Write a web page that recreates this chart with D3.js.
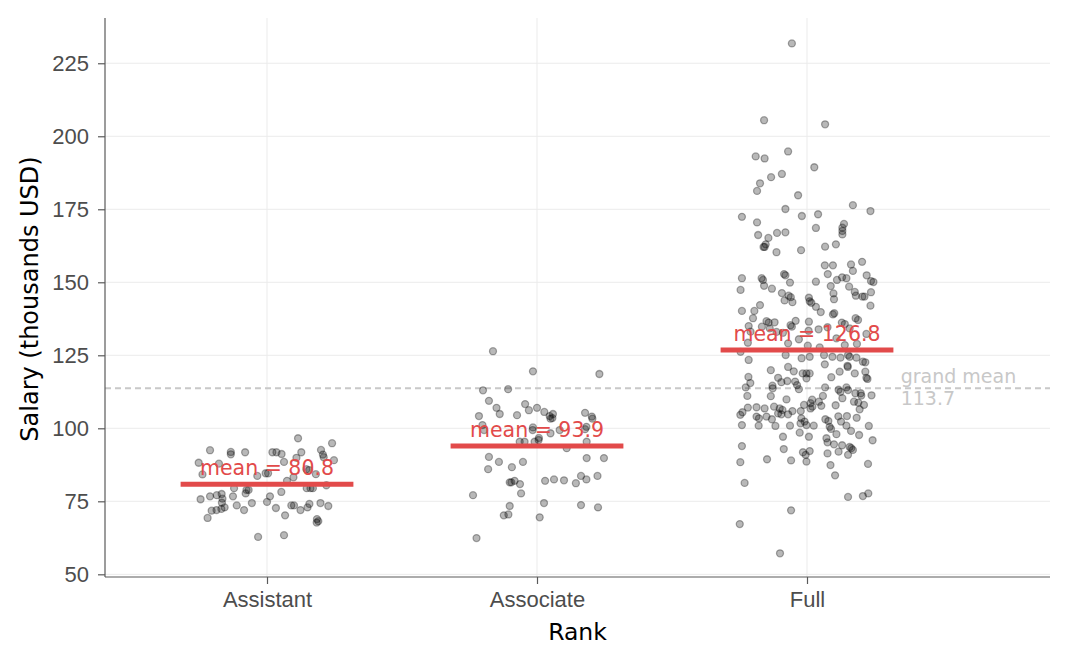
<!DOCTYPE html>
<html lang="en">
<head>
<meta charset="UTF-8">
<title>Salary by rank</title>
<script src="https://d3js.org/d3.v7.min.js"></script>
<style>
    body{ margin:0; background:#fff; }
    svg{ font-family:"DejaVu Sans", sans-serif; }
    .grid line{ stroke:#ebebeb; stroke-width:1; }
    .axis path, .axis line{ stroke:#5a5a5a; stroke-width:1.2; }
    .axis text{ fill:#4d4d4d; font-size:22px; }
</style>
</head>
<body>
<script>
// categories and summary values
const ranks = ["Assistant", "Associate", "Full"];
const rankMeans = [80.8, 93.9, 126.8];
const grandMean = 113.7;
const yTicks = [50, 75, 100, 125, 150, 175, 200, 225];

// [jitter (category units), salary (thousands USD)]
const assistant = [
    [0.115,96.6],[0.241,94.9],[-0.211,92.5],[-0.134,91.9],[-0.134,91.1],[-0.081,91.8],[0.020,91.8],[0.035,91.8],[0.054,91.2],[0.127,91.8],
    [0.200,92.6],[0.207,91.0],[0.210,90.1],[0.109,89.9],[0.248,89.1],[-0.253,88.2],[-0.178,87.9],[0.063,88.5],[0.146,86.0],[0.156,85.7],
    [-0.239,84.2],[-0.036,83.7],[-0.005,84.6],[0.004,84.6],[0.098,83.2],[0.181,84.3],[0.074,82.0],[0.220,80.5],[-0.122,79.5],[-0.076,78.9],
    [-0.068,78.9],[0.147,79.5],[0.161,79.5],[0.170,79.5],[0.053,78.2],[-0.246,75.7],[-0.211,76.7],[-0.186,77.1],[-0.168,77.5],[-0.165,75.9],
    [-0.126,76.7],[-0.079,77.7],[-0.056,74.4],[0.000,74.8],[0.011,76.7],[-0.167,74.5],[-0.205,71.8],[-0.187,72.0],[-0.169,72.4],[-0.157,72.9],
    [-0.112,73.6],[-0.085,72.0],[0.033,72.7],[0.067,70.2],[0.090,73.6],[0.100,73.6],[0.124,72.0],[0.150,72.9],[0.157,74.1],[0.198,74.4],
    [0.227,73.4],[-0.220,69.3],[0.185,68.9],[0.190,68.2],[0.184,67.7],[-0.033,62.8],[0.063,63.4]
];

const associate = [
    [-0.163,126.4],[-0.015,119.5],[0.231,118.6],[-0.200,113.0],[-0.107,113.4],[-0.178,109.4],[-0.150,107.0],[-0.138,104.9],[-0.215,104.2],[-0.074,104.5],
    [-0.044,108.3],[-0.030,106.2],[0.000,107.0],[0.027,105.6],[0.047,104.2],[0.059,104.9],[0.057,103.5],[0.050,103.3],[0.178,105.3],[0.203,104.0],
    [0.205,103.3],[-0.202,101.1],[-0.196,99.4],[-0.015,100.3],[-0.016,99.4],[0.084,99.4],[0.050,98.3],[0.007,96.7],[0.183,100.5],[0.178,99.7],
    [-0.064,95.4],[-0.046,95.4],[-0.009,95.4],[0.006,96.0],[0.184,95.4],[0.110,93.2],[-0.178,90.2],[-0.141,88.5],[-0.093,86.7],[-0.052,88.5],
    [-0.181,86.0],[0.184,89.8],[0.248,89.8],[-0.101,81.5],[-0.095,81.5],[-0.083,82.0],[-0.063,80.9],[-0.059,77.7],[-0.237,77.1],[0.030,82.0],
    [0.063,82.5],[0.100,82.2],[0.144,81.2],[0.163,83.7],[0.183,82.5],[0.224,83.7],[0.026,74.4],[0.163,73.7],[0.226,72.9],[-0.101,73.4],
    [-0.123,70.2],[-0.106,70.5],[0.010,69.5],[-0.224,62.4]
];

const full = [
    [-0.056,231.8],[-0.159,205.5],[0.067,204.1],[-0.070,194.8],[-0.190,193.1],[-0.157,192.4],[0.027,189.4],[-0.093,187.1],[-0.133,186.0],[-0.174,183.9],
    [-0.185,181.3],[-0.033,179.8],[-0.080,175.1],[0.170,176.4],[0.235,174.4],[-0.241,172.4],[-0.185,170.5],[-0.019,172.7],[0.041,173.3],[0.033,168.6],
    [0.137,170.0],[0.131,168.7],[0.131,167.6],[0.131,166.4],[-0.181,166.2],[-0.143,165.2],[-0.111,166.9],[-0.080,167.1],[-0.153,163.0],[-0.161,162.1],
    [-0.157,162.1],[-0.113,160.3],[-0.022,161.0],[0.067,162.2],[0.107,163.0],[0.066,155.8],[0.096,155.8],[0.163,156.1],[0.204,157.0],[-0.241,151.4],
    [-0.168,151.4],[-0.163,150.8],[-0.159,148.8],[-0.085,152.8],[-0.080,152.4],[-0.063,149.9],[0.033,150.2],[-0.246,147.4],[-0.130,147.8],[-0.093,146.3],
    [-0.068,145.4],[-0.060,144.9],[-0.083,143.8],[-0.054,143.2],[0.077,152.8],[0.111,150.8],[0.130,151.7],[0.146,151.4],[0.170,153.9],[0.221,152.4],
    [0.237,150.4],[0.246,150.1],[0.088,148.7],[0.098,146.2],[0.100,144.2],[0.156,148.5],[0.177,146.7],[0.181,145.4],[0.205,145.1],[0.213,145.1],
    [0.237,146.6],[0.235,142.0],[0.007,144.7],[0.010,143.5],[0.016,143.0],[0.033,141.6],[0.051,139.8],[0.096,139.0],[0.101,139.4],[-0.241,140.2],
    [-0.195,140.2],[-0.174,142.2],[-0.200,137.7],[-0.216,135.0],[-0.150,136.7],[-0.142,136.2],[-0.120,136.3],[-0.042,136.8],[-0.061,135.3],[-0.056,134.8],
    [0.007,136.5],[0.006,133.4],[0.043,133.9],[0.076,134.6],[0.129,136.2],[0.140,135.7],[0.180,137.7],[0.189,137.1],[0.158,134.2],[0.220,132.3],
    [-0.209,133.1],[-0.167,134.8],[-0.138,134.2],[-0.113,133.0],[-0.089,132.7],[-0.030,130.5],[-0.219,129.3],[-0.070,129.1],[0.003,128.3],[0.109,130.8],
    [0.140,128.5],[0.047,127.7],[-0.246,126.2],[0.185,128.9],[-0.216,123.4],[-0.079,125.1],[-0.020,124.0],[0.010,124.5],[0.063,125.1],[0.094,124.5],
    [0.124,124.2],[0.152,125.1],[0.158,124.5],[0.183,124.2],[0.207,122.8],[0.216,122.6],[-0.134,119.9],[-0.070,121.0],[-0.049,119.5],[-0.016,118.8],
    [-0.002,118.8],[0.010,118.8],[-0.002,117.1],[0.066,121.9],[0.121,119.4],[0.150,121.4],[0.151,121.0],[0.177,118.8],[0.216,119.4],[0.220,117.3],
    [0.224,116.9],[-0.217,117.6],[-0.210,115.5],[-0.227,114.0],[-0.107,117.3],[-0.095,115.8],[-0.073,116.2],[-0.128,114.6],[-0.127,113.7],[-0.044,116.0],
    [-0.037,114.8],[-0.030,113.4],[0.090,117.5],[0.067,114.0],[0.117,113.2],[0.124,112.5],[0.146,114.0],[0.152,113.1],[0.179,112.0],[0.199,112.0],
    [0.201,111.2],[0.239,111.3],[-0.221,111.1],[-0.134,111.0],[-0.076,109.9],[0.059,111.1],[0.019,109.8],[0.013,108.6],[0.013,106.8],[0.020,107.4],
    [0.044,109.1],[0.053,107.7],[-0.011,108.0],[0.106,107.9],[0.131,110.3],[0.174,109.1],[0.190,108.8],[0.211,108.0],[0.195,106.5],[-0.247,104.6],
    [-0.239,105.5],[-0.219,107.1],[-0.187,107.2],[-0.187,104.0],[-0.178,103.4],[-0.157,106.8],[-0.150,104.0],[-0.122,107.4],[-0.101,106.8],[-0.091,106.3],
    [-0.107,105.1],[-0.095,104.8],[-0.070,104.8],[-0.054,105.9],[-0.130,103.1],[-0.023,105.9],[-0.021,103.4],[-0.009,102.3],[-0.002,101.1],[-0.024,101.7],
    [-0.241,101.1],[-0.179,100.9],[-0.117,100.8],[-0.063,100.9],[0.025,100.9],[0.068,103.1],[0.079,102.5],[0.084,100.5],[0.089,99.8],[0.116,104.1],
    [0.148,104.2],[0.126,102.3],[0.146,100.9],[0.184,103.6],[0.163,99.1],[0.193,97.7],[0.229,100.8],[0.109,98.0],[-0.027,98.5],[-0.089,97.1],
    [0.007,97.1],[0.072,96.6],[0.076,95.2],[0.100,94.5],[0.130,94.2],[0.158,93.6],[0.164,93.2],[0.170,92.6],[0.243,95.9],[-0.241,93.9],
    [-0.086,92.9],[-0.015,91.8],[0.010,92.2],[0.076,91.4],[0.117,92.0],[-0.247,88.4],[-0.148,89.4],[-0.059,89.0],[-0.005,90.9],[-0.002,88.6],
    [0.087,87.4],[0.152,90.9],[0.226,87.8],[-0.231,81.3],[0.104,83.9],[0.152,76.5],[0.207,76.8],[0.227,77.7],[-0.059,71.9],[-0.249,67.2],
    [-0.100,57.2]
];

const groups = [assistant, associate, full];

const width = 1068;
const height = 663;
const plotLeft = 105, plotRight = 1050, plotTop = 18, plotBottom = 577;

const svg = d3.select("body").append("svg")
    .attr("width", width)
    .attr("height", height);

const x = d3.scaleLinear().domain([0.4, 3.9]).range([plotLeft, plotRight]);
const y = d3.scaleLinear().domain([49.08, 240.5]).range([plotBottom, plotTop]);

// grid
const grid = svg.append("g").attr("class", "grid");
grid.selectAll(".hg")
    .data(yTicks)
    .enter()
    .append("line")
    .attr("x1", plotLeft).attr("x2", plotRight)
    .attr("y1", d => y(d)).attr("y2", d => y(d));
grid.selectAll(".vg")
    .data(ranks)
    .enter()
    .append("line")
    .attr("x1", (d, i) => x(i + 1)).attr("x2", (d, i) => x(i + 1))
    .attr("y1", plotTop).attr("y2", plotBottom);

// grand mean
svg.append("line")
    .attr("x1", plotLeft).attr("x2", plotRight)
    .attr("y1", y(grandMean)).attr("y2", y(grandMean))
    .attr("stroke", "#c8c8c8")
    .attr("stroke-width", 2)
    .attr("stroke-dasharray", "6,4");

const gm = svg.append("text")
    .attr("x", x(3.347))
    .attr("y", y(grandMean) - 5)
    .attr("fill", "#c8c8c8")
    .style("font-size", "19px");
gm.append("tspan").attr("x", x(3.347)).text("grand mean");
gm.append("tspan").attr("x", x(3.347)).attr("dy", "1.12em").text(grandMean.toFixed(1));

// points
groups.forEach((g, i) => {
    svg.append("g")
        .selectAll("circle")
        .data(g)
        .enter()
        .append("circle")
        .attr("cx", d => x(i + 1 + d[0]))
        .attr("cy", d => y(d[1]))
        .attr("r", 3.5)
        .attr("fill", "#000")
        .attr("fill-opacity", 0.28)
        .attr("stroke", "#000")
        .attr("stroke-opacity", 0.32)
        .attr("stroke-width", 1.3);
});

// means
svg.append("g")
    .selectAll("line")
    .data(rankMeans)
    .enter()
    .append("line")
    .attr("x1", (d, i) => x(i + 1 - 0.32))
    .attr("x2", (d, i) => x(i + 1 + 0.32))
    .attr("y1", d => y(d)).attr("y2", d => y(d))
    .attr("stroke", "#e24a4a")
    .attr("stroke-width", 5);

svg.append("g")
    .selectAll("text")
    .data(rankMeans)
    .enter()
    .append("text")
    .attr("x", (d, i) => x(i + 1))
    .attr("y", d => y(d) - 9)
    .attr("text-anchor", "middle")
    .attr("fill", "#e24a4a")
    .style("font-size", "20.5px")
    .text(d => `mean = ${d.toFixed(1)}`);

// axes
const yAxis = svg.append("g")
    .attr("class", "axis")
    .attr("transform", `translate(${plotLeft},0)`)
    .call(d3.axisLeft(y).tickValues(yTicks).tickSize(7).tickPadding(9).tickSizeOuter(0));
yAxis.select(".domain").attr("d", `M0,${plotTop}V${plotBottom}`);

const xAxis = svg.append("g")
    .attr("class", "axis")
    .attr("transform", `translate(0,${plotBottom})`)
    .call(d3.axisBottom(x).tickValues([1, 2, 3]).tickFormat(d => ranks[d - 1]).tickSize(7).tickPadding(7).tickSizeOuter(0));
xAxis.select(".domain").attr("d", `M${plotLeft},0H${plotRight}`);

svg.append("text")
    .attr("x", (plotLeft + plotRight) / 2)
    .attr("y", 640)
    .attr("text-anchor", "middle")
    .style("font-size", "23.5px")
    .text("Rank");

svg.append("text")
    .attr("transform", "translate(38,299) rotate(-90)")
    .attr("text-anchor", "middle")
    .style("font-size", "24px")
    .text("Salary (thousands USD)");
</script>
</body>
</html>
